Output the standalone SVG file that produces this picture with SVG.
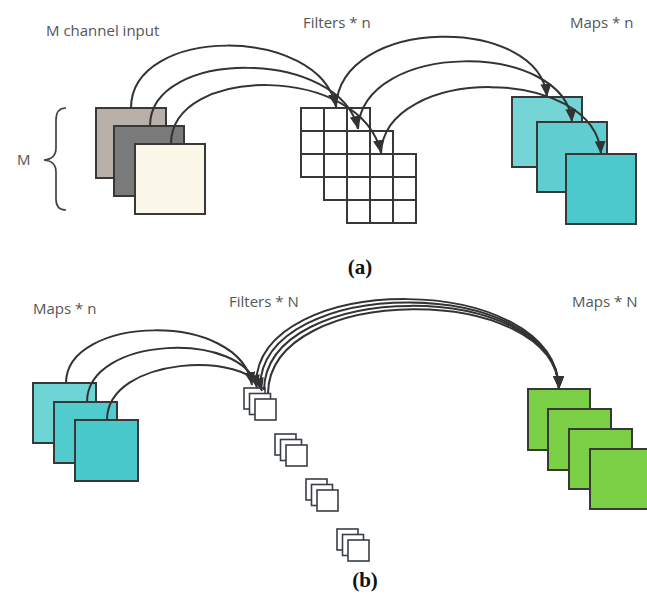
<svg xmlns="http://www.w3.org/2000/svg" width="647" height="594" viewBox="0 0 647 594">
<style>
.lbl{font-family:"Open Sans","Noto Sans",sans-serif;font-size:15px;fill:#555}
.cap{font-family:"Liberation Serif","DejaVu Serif",serif;font-size:21px;font-weight:bold;fill:#111;text-anchor:middle}
.sq{stroke:#383838;stroke-width:2}
.grid{fill:none;stroke:#383838;stroke-width:2}
.small{fill:#fff;stroke:#3a3f44;stroke-width:1.6}
.con{fill:none;stroke:#333;stroke-width:2}
</style>
<defs>
<marker id="ah" viewBox="0 0 13 11" refX="13" refY="5.5" markerWidth="13" markerHeight="11" markerUnits="userSpaceOnUse" orient="auto">
<path d="M0,0 L13,5.5 L0,11 Z" fill="#333"/>
</marker>
</defs>
<rect width="647" height="594" fill="#fff"/>

<!-- (a) -->
<text class="lbl" x="46" y="36">M channel input</text>
<text class="lbl" x="303" y="28">Filters * n</text>
<text class="lbl" x="570" y="28">Maps * n</text>
<g id="brace">
<text class="lbl" x="17" y="165">M</text>
<path d="M66,108 Q56,108 56,120 L56,148 Q56,159 44,160 Q56,161 56,172 L56,199 Q56,210 66,210" fill="none" stroke="#444" stroke-width="1.7"/>
</g>
<g id="input">
<rect class="sq" x="96" y="108" width="70" height="70" fill="#b9afa9"/>
<rect class="sq" x="114" y="126" width="70" height="70" fill="#7a7a7a"/>
<rect class="sq" x="135" y="144" width="70" height="70" fill="#fbf8ea"/>
</g>
<g id="filters-a">
<g><rect x="301" y="108" width="69" height="69" fill="#fff"/><path class="grid" d="M301,108h69v69h-69z M324,108v69 M347,108v69 M301,131h69 M301,154h69"/></g>
<g><rect x="324" y="131" width="69" height="69" fill="#fff"/><path class="grid" d="M324,131h69v69h-69z M347,131v69 M370,131v69 M324,154h69 M324,177h69"/></g>
<g><rect x="347" y="154" width="69" height="69" fill="#fff"/><path class="grid" d="M347,154h69v69h-69z M370,154v69 M393,154v69 M347,177h69 M347,200h69"/></g>
</g>
<g id="maps-a">
<rect class="sq" x="512" y="97" width="70" height="70" fill="#74d4d6"/>
<rect class="sq" x="537" y="122" width="70" height="70" fill="#60ced1"/>
<rect class="sq" x="566" y="154" width="70" height="70" fill="#4cc9cc"/>
</g>

<!-- (b) -->
<text class="lbl" x="33" y="314">Maps * n</text>
<text class="lbl" x="229" y="307">Filters * N</text>
<text class="lbl" x="572" y="307">Maps * N</text>
<g id="maps-n">
<rect class="sq" x="33" y="383" width="63" height="60" fill="#6fd4d5"/>
<rect class="sq" x="54" y="402" width="63" height="61" fill="#50cbce"/>
<rect class="sq" x="75" y="420" width="63" height="61" fill="#4ac9cc"/>
</g>
<g id="filters-b">
<g><rect class="small" x="244" y="388" width="21" height="21"/><rect class="small" x="249.5" y="393.5" width="21" height="21"/><rect class="small" x="255" y="399" width="21" height="21"/></g>
<g><rect class="small" x="275" y="434" width="21" height="21"/><rect class="small" x="280.5" y="439.5" width="21" height="21"/><rect class="small" x="286" y="445" width="21" height="21"/></g>
<g><rect class="small" x="306" y="479" width="21" height="21"/><rect class="small" x="311.5" y="484.5" width="21" height="21"/><rect class="small" x="317" y="490" width="21" height="21"/></g>
<g><rect class="small" x="337" y="529" width="21" height="21"/><rect class="small" x="342.5" y="534.5" width="21" height="21"/><rect class="small" x="348" y="540" width="21" height="21"/></g>
</g>
<g id="maps-N">
<rect class="sq" x="528" y="389" width="62" height="61" fill="#7acf45"/>
<rect class="sq" x="548" y="409" width="63" height="61" fill="#7acf45"/>
<rect class="sq" x="569" y="429" width="63" height="60" fill="#7acf45"/>
<rect class="sq" x="590" y="449" width="63" height="60" fill="#7acf45"/>
</g>

<g id="connectors">
<path class="con" marker-end="url(#ah)" d="M131,108 C131,25 320,25 336,107"/>
<path class="con" marker-end="url(#ah)" d="M150,126 C150,48 340,48 358,129"/>
<path class="con" marker-end="url(#ah)" d="M171,144 C171,64 362,64 381,153"/>
<path class="con" marker-end="url(#ah)" d="M336,107 C340,15 540,15 547,97"/>
<path class="con" marker-end="url(#ah)" d="M358,129 C362,40 565,40 572,122"/>
<path class="con" marker-end="url(#ah)" d="M381,153 C385,65 595,65 601,154"/>

<path class="con" marker-end="url(#ah)" d="M66,383 C66,315 240,310 252,385"/>
<path class="con" marker-end="url(#ah)" d="M87,402 C87,335 245,330 257,388"/>
<path class="con" marker-end="url(#ah)" d="M107,420 C107,356 250,350 262,391"/>
<path class="con" marker-end="url(#ah)" d="M256,384 C258,270 556,270 559,389"/>
<path class="con" marker-end="url(#ah)" d="M260,387 C262,274 556,274 559,389"/>
<path class="con" marker-end="url(#ah)" d="M264,390 C266,278 556,278 559,389"/>
<path class="con" marker-end="url(#ah)" d="M268,393 C270,282 556,282 559,389"/>
</g>

<text class="cap" x="360" y="274">(a)</text>
<text class="cap" x="365" y="587">(b)</text>
</svg>
